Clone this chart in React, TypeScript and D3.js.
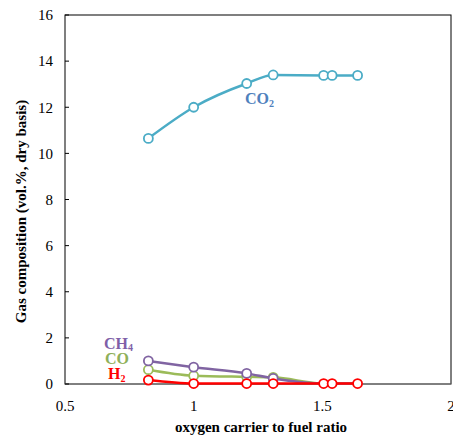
import React from "react";
import * as d3 from "d3";

const ratios = [0.824, 1.0, 1.206, 1.309, 1.505, 1.538, 1.637];
const co2 = [10.65, 12.0, 13.03, 13.4, 13.38, 13.38, 13.38];
const ch4 = [1.0, 0.73, 0.46, 0.24, 0.02, 0.02, 0.02];
const co = [0.62, 0.36, 0.31, 0.29, 0.02, 0.02, 0.02];
const h2 = [0.17, 0.02, 0.02, 0.02, 0.02, 0.02, 0.02];
const xTicks = [0.5, 1, 1.5, 2];
const yTicks = [0, 2, 4, 6, 8, 10, 12, 14, 16];

const W = 453, H = 437;
const M = { left: 65, right: 451, top: 15, bottom: 384 };
const FONT = { fontFamily: "Liberation Serif" };

export default function App() {
  const x = d3.scaleLinear().domain([0.5, 2]).range([M.left, M.right]);
  const y = d3.scaleLinear().domain([0, 16]).range([M.bottom, M.top]);
  const line = d3
    .line<number>()
    .x((_, i) => x(ratios[i]))
    .y((d) => y(d))
    .curve(d3.curveMonotoneX);

  const series = [
    { vals: co2, color: "#4bacc6", pts: ratios.length },
    { vals: co, color: "#9bbb59", pts: 4 },
    { vals: ch4, color: "#8064a2", pts: 4 },
    { vals: h2, color: "#ff0000", pts: ratios.length },
  ];

  return (
    <svg width={W} height={H} style={{ position: "absolute", left: 0, top: 0 }}>
      <rect x={0} y={0} width={W} height={H} fill="#fff" />
      <rect
        x={M.left}
        y={M.top}
        width={M.right - M.left}
        height={M.bottom - M.top}
        fill="none"
        stroke="#000"
        strokeWidth={1}
      />
      <line x1={M.left} x2={M.right} y1={M.bottom} y2={M.bottom} stroke="#808080" strokeWidth={1.2} />
      {yTicks.map((t) => (
        <g key={t}>
          <line x1={M.left} x2={M.left + 4} y1={y(t)} y2={y(t)} stroke="#000" />
          <text x={53} y={y(t)} dy="0.35em" textAnchor="end" fontSize={15} style={FONT}>
            {t}
          </text>
        </g>
      ))}
      {xTicks.map((t) => (
        <text key={t} x={x(t)} y={411} textAnchor="middle" fontSize={15} style={FONT}>
          {t}
        </text>
      ))}
      <text x={(M.left + M.right) / 2 + 3} y={432} textAnchor="middle" fontSize={15} fontWeight="bold" style={FONT}>
        oxygen carrier to fuel ratio
      </text>
      <text
        transform={`translate(26, ${(M.top + M.bottom) / 2 + 12}) rotate(-90)`}
        textAnchor="middle"
        fontSize={15}
        fontWeight="bold"
        style={FONT}
      >
        Gas composition (vol.%, dry basis)
      </text>
      {series.map((s, si) => (
        <g key={si}>
          <path d={line(s.vals) || ""} fill="none" stroke={s.color} strokeWidth={2.5} />
          {s.vals.slice(0, s.pts).map((v, i) => (
            <circle key={i} cx={x(ratios[i])} cy={y(v)} r={4.5} fill="#fff" stroke={s.color} strokeWidth={1.8} />
          ))}
        </g>
      ))}
      <text x={245} y={104} fontSize={16} fontWeight="bold" fill="#4f81bd" style={FONT}>
        CO<tspan fontSize={10} dy={3}>2</tspan>
      </text>
      <text x={104} y={349} fontSize={16} fontWeight="bold" fill="#7f5fa8" style={FONT}>
        CH<tspan fontSize={10} dy={2}>4</tspan>
      </text>
      <text x={105} y={364} fontSize={16} fontWeight="bold" fill="#8fb05a" style={FONT}>
        CO
      </text>
      <text x={108} y={379} fontSize={16} fontWeight="bold" fill="#ff0000" style={FONT}>
        H<tspan fontSize={10} dy={3}>2</tspan>
      </text>
    </svg>
  );
}
